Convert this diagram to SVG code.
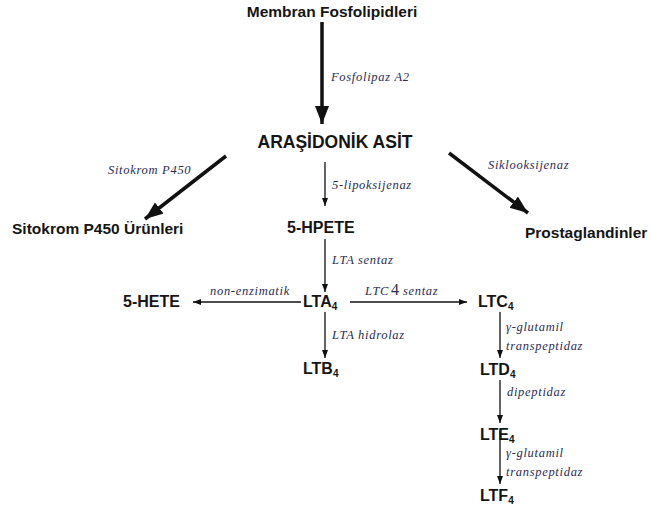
<svg xmlns="http://www.w3.org/2000/svg" width="651" height="510" viewBox="0 0 651 510">
<defs>
<style>
.n{font-family:"Liberation Sans",Arial,sans-serif;font-weight:bold;fill:#151515;}
.l{font-family:"Liberation Serif","Times New Roman",serif;font-style:italic;font-size:12.5px;letter-spacing:0.7px;fill:#2a2a52;}
.thick{stroke:#111;stroke-width:3.5;fill:none;}
.thin{stroke:#111;stroke-width:1.3;fill:none;}
</style>
<marker id="big" markerUnits="userSpaceOnUse" markerWidth="20" markerHeight="16" refX="18" refY="7" orient="auto"><path d="M0,0 L18,7 L0,14 z" fill="#111"/></marker>
<marker id="sm" markerUnits="userSpaceOnUse" markerWidth="10" markerHeight="8" refX="8" refY="3" orient="auto"><path d="M0,0 L8,3 L0,6 z" fill="#111"/></marker>
</defs>
<rect width="651" height="510" fill="#fff"/>
<g id="connectors">
<line class="thick" x1="322" y1="22" x2="322" y2="124" marker-end="url(#big)"/>
<line class="thick" x1="226" y1="156" x2="145" y2="219" marker-end="url(#big)"/>
<line class="thick" x1="449" y1="153" x2="528" y2="213" marker-end="url(#big)"/>
<line class="thin" x1="325" y1="162" x2="325" y2="206" marker-end="url(#sm)"/>
<line class="thin" x1="325" y1="239" x2="325" y2="292" marker-end="url(#sm)"/>
<line class="thin" x1="325" y1="312" x2="325" y2="358" marker-end="url(#sm)"/>
<line class="thin" x1="301" y1="302" x2="193" y2="302" marker-end="url(#sm)"/>
<line class="thin" x1="350" y1="302" x2="467" y2="302" marker-end="url(#sm)"/>
<line class="thin" x1="500" y1="312" x2="500" y2="358" marker-end="url(#sm)"/>
<line class="thin" x1="500" y1="380" x2="500" y2="423" marker-end="url(#sm)"/>
<line class="thin" x1="500" y1="430" x2="500" y2="484" marker-end="url(#sm)"/>
<text class="l" x="331" y="81">Fosfolipaz A2</text>
<text class="l" x="108" y="174">Sitokrom P450</text>
<text class="l" x="488" y="169">Siklooksijenaz</text>
<text class="l" x="332" y="189">5-lipoksijenaz</text>
<text class="l" x="332" y="264">LTA sentaz</text>
<text class="l" x="332" y="339">LTA hidrolaz</text>
<text class="l" x="210" y="295">non-enzimatik</text>
<text class="l" x="365" y="295">LTC<tspan dx="2" style="font-style:normal;font-size:16px;letter-spacing:0">4</tspan> sentaz</text>
<text class="l" x="506" y="331">γ-glutamil</text>
<text class="l" x="506" y="350">transpeptidaz</text>
<text class="l" x="507" y="396">dipeptidaz</text>
<text class="l" x="506" y="457">γ-glutamil</text>
<text class="l" x="506" y="476">transpeptidaz</text>
</g>
<g id="membran"><text class="n" x="332" y="17" font-size="15.5" text-anchor="middle">Membran Fosfolipidleri</text></g>
<g id="arasidonik"><text class="n" x="335" y="148" font-size="17.5" text-anchor="middle">ARAŞİDONİK ASİT</text></g>
<g id="sitokrom"><text class="n" x="12" y="234" font-size="15.5">Sitokrom P450 Ürünleri</text></g>
<g id="prostaglandinler"><text class="n" x="525" y="238" font-size="15.5">Prostaglandinler</text></g>
<g id="hpete"><text class="n" x="287" y="233" font-size="16">5-HPETE</text></g>
<g id="hete"><text class="n" x="123" y="307" font-size="16">5-HETE</text></g>
<g id="lta4"><text class="n" x="303" y="307" font-size="16">LTA<tspan font-size="10" dy="3">4</tspan></text></g>
<g id="ltb4"><text class="n" x="303" y="374" font-size="16">LTB<tspan font-size="10" dy="3">4</tspan></text></g>
<g id="ltc4"><text class="n" x="478" y="307" font-size="16">LTC<tspan font-size="10" dy="3">4</tspan></text></g>
<g id="ltd4"><text class="n" x="480" y="375" font-size="16">LTD<tspan font-size="10" dy="3">4</tspan></text></g>
<g id="lte4"><text class="n" x="480" y="440" font-size="16">LTE<tspan font-size="10" dy="3">4</tspan></text></g>
<g id="ltf4"><text class="n" x="480" y="501" font-size="16">LTF<tspan font-size="10" dy="3">4</tspan></text></g>
</svg>
